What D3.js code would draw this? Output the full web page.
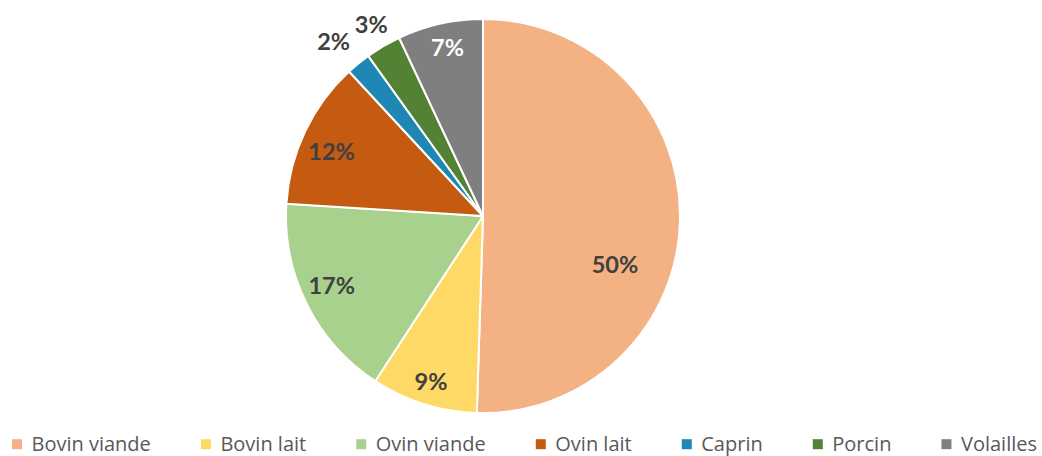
<!DOCTYPE html>
<html><head><meta charset="utf-8">
<script src="https://cdn.jsdelivr.net/npm/d3@7"></script>
<style>body{margin:0;background:#fff}svg{display:block}</style>
</head><body>
<svg id="c" width="1042" height="456"></svg>
<script>
const categories = ["Bovin viande","Bovin lait","Ovin viande","Ovin lait","Caprin","Porcin","Volailles"];
const values = [50.5, 8.7, 16.8, 12.1, 2.0, 2.9, 7.0];
const labels = ["50%","9%","17%","12%","2%","3%","7%"];
const colors = ["#F4B183","#FFD966","#A9D18E","#C55A11","#1F87B4","#548235","#7F7F7F"];
const labelColors = ["#404040","#404040","#404040","#404040","#404040","#404040","#ffffff"];
// label placement: radius fraction and angle shift (deg)
const labelRadius = [0.714, 0.879, 0.844, 0.835, 1.164, 1.127, 0.875];
const labelShift = [19.3, 0, 2.1, -2.4, -1.4, 0.2, 0.7];

const svg = d3.select("#c");
const cx = 483, cy = 216, R = 197;
const g = svg.append("g").attr("transform", `translate(${cx},${cy})`);
const pie = d3.pie().sort(null).value(d => d)(values);
const arc = d3.arc().innerRadius(0).outerRadius(R);
g.selectAll("path").data(pie).join("path")
  .attr("d", arc).attr("fill", (d,i) => colors[i])
  .attr("stroke", "#fff").attr("stroke-width", 2).attr("stroke-linejoin","round");

g.selectAll("text.lbl").data(pie).join("text").attr("class","lbl")
  .attr("transform", (d,i) => {
    const a = (d.startAngle + d.endAngle)/2 + labelShift[i]*Math.PI/180;
    const r = R*labelRadius[i];
    return `translate(${r*Math.sin(a)},${-r*Math.cos(a)})`;
  })
  .attr("text-anchor","middle").attr("dy","0.36em")
  .attr("font-family","Lato, sans-serif").attr("font-weight","bold").attr("font-size", 23.5)
  .attr("fill", (d,i) => labelColors[i])
  .text((d,i) => labels[i]);

// legend
const leg = svg.append("g");
const items = leg.selectAll("g").data(categories).join("g");
items.append("rect").attr("width",10).attr("height",10).attr("y",-11.8).attr("fill",(d,i)=>colors[i]);
items.append("text").attr("x",19.5).attr("font-family","'Open Sans', sans-serif").attr("font-size",20)
  .attr("fill","#595959").text(d=>d);
let x = 0;
const widths = [];
items.each(function(){
  const w = 19.5 + d3.select(this).select("text").node().getComputedTextLength();
  widths.push(w);
});
const natural = widths.reduce((a,b)=>a+b,0);
const g2 = (1037 - 12 - natural) / (categories.length - 1);
items.each(function(d,i){
  d3.select(this).attr("transform", `translate(${x},0)`);
  x += widths[i] + g2;
});
leg.attr("transform", `translate(12,451)`);
</script>
</body></html>
